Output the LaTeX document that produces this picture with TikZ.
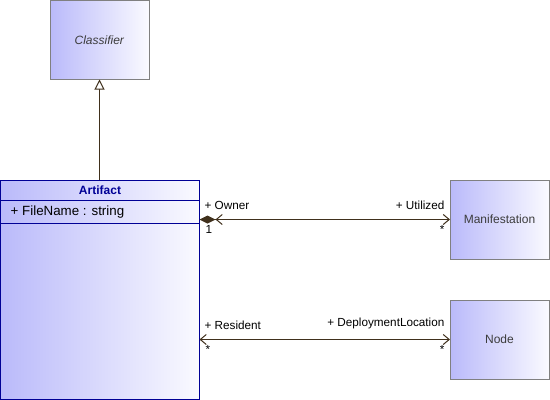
\documentclass[tikz,border=0pt]{standalone}
\usepackage{fontspec}
\setmainfont{Liberation Sans}
\usetikzlibrary{arrows.meta}

\definecolor{boxblue}{RGB}{186,186,250}
\definecolor{boxwhite}{RGB}{250,250,255}
\definecolor{boxgray}{RGB}{128,128,128}
\definecolor{artnavy}{RGB}{0,0,150}
\definecolor{linebrown}{RGB}{64,48,28}
\definecolor{textgray}{RGB}{60,60,60}

\tikzset{
	classbox/.style={draw=boxgray,line width=0.75pt,left color=boxblue,right color=boxwhite,shading angle=90,
		anchor=north west,inner sep=0pt,outer sep=0pt,text=textgray,
		minimum width=74.25pt,minimum height=59.25pt},
	artbox/.style={draw=artnavy,line width=0.75pt,left color=boxblue,right color=boxwhite,shading angle=90,
		anchor=north west,inner sep=0pt,outer sep=0pt,
		minimum width=149.25pt,minimum height=164.25pt},
	assoc/.style={draw=linebrown,line width=0.75pt},
	role/.style={font=\fontsize{8.8}{10}\selectfont,inner sep=1pt},
}

\begin{document}
\begin{tikzpicture}[x=0.75pt,y=0.75pt,yscale=-1,xscale=1,font=\fontsize{9}{11}\selectfont]
			\useasboundingbox (0,0) rectangle (550,400);
			
			\node[classbox] (classifier) at (50,0.5) {\textit{Classifier}};
			\node[classbox] (manif) at (450,180) {Manifestation};
			\node[classbox] (nodebox) at (450,300) {Node};
			\node[artbox] (artifact) at (0.5,180) {};
			
			% compartments of Artifact
			\draw[artnavy,line width=0.75pt] (0.5,200) coordinate (hdrL) -- (hdrL -| artifact.east);
			\draw[artnavy,line width=0.75pt] (0.5,223) coordinate (attL) -- (attL -| artifact.east);
			\node[text=artnavy,font=\fontsize{9}{11}\selectfont\bfseries] (arttitle) at (100,190) {Artifact};
			\node[anchor=west,text=black,font=\fontsize{10}{12}\selectfont] (filename) at (6,212) {+ FileName : string};
			
			% generalization
			\draw[assoc,-{Triangle[open,length=7.5pt,width=7.5pt,fill=white]}] (artifact.north -| classifier.south) -- (classifier.south);
			
			% composition
			\draw[assoc,{Diamond[length=12pt,width=6pt,fill=linebrown]Straight Barb[length=4.5pt,width=7.5pt]}-{Straight Barb[length=4.5pt,width=7.5pt]}] (artifact.east |- manif.west) -- (manif.west);
			\node[role,anchor=south west] (owner) at (203,211) {+ Owner};
			\node[role,anchor=north west] (ownerm) at (204,224) {1};
			\node[role,anchor=south east] (utilized) at (446,211) {+ Utilized};
			\node[role,anchor=north east] (utilizedm) at (446,224) {*};
			
			% association
			\draw[assoc,{Straight Barb[length=4.5pt,width=7.5pt]}-{Straight Barb[length=4.5pt,width=7.5pt]}] (artifact.east |- nodebox.west) -- (nodebox.west);
			\node[role,anchor=south west] (resident) at (203,331) {+ Resident};
			\node[role,anchor=north west] (residentm) at (204,344) {*};
			\node[role,anchor=south east] (deploy) at (446,331) {+ DeploymentLocation};
			\node[role,anchor=north east] (deploym) at (446,344) {*};
			\end{tikzpicture}
\end{document}
